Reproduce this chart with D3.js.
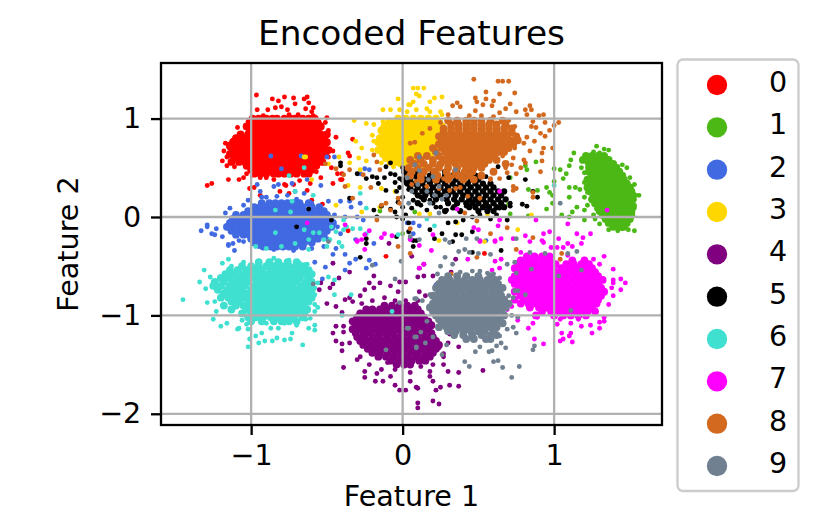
<!DOCTYPE html>
<html><head><meta charset="utf-8"><style>html,body{margin:0;background:#fff}svg{display:block}text{font-family:"DejaVu Sans";fill:#000}</style>
<script src="https://cdn.jsdelivr.net/npm/d3@7"></script></head><body><div id="c"></div><script>
const title="Encoded Features", xLabel="Feature 1", yLabel="Feature 2";
const xTicks=[-1,0,1], yTicks=[-2,-1,0,1];
const xDomain=[-1.595,1.712], yDomain=[-2.114,1.565];
const categories=["0","1","2","3","4","5","6","7","8","9"];
const colors=["#ff0000","#4cb816","#4169e1","#ffd700","#800080","#000000","#40e0d0","#ff00ff","#d2691e","#708090"];
// points in the overplotted core of each class, read row by row: [y, x, x, x, ...]
const core0=[[1.0,-.99,-.95,-.9,-.86,-.83,-.78,-.74,-.71,-.66,-.62,-.58],[.96,-1,-.96,-.92,-.88,-.84,-.8,-.76,-.72,-.68,-.64,-.6,-.56],[.92,-1.03,-.98,-.94,-.9,-.86,-.82,-.78,-.74,-.7,-.66,-.62,-.58,-.54],[.88,-1,-.96,-.92,-.88,-.84,-.8,-.76,-.72,-.68,-.64,-.6,-.56],[.84,-1.07,-1.02,-.98,-.94,-.9,-.86,-.82,-.78,-.74,-.7,-.66,-.62,-.58,-.54,-.5],[.8,-1.1,-1.05,-1,-.96,-.92,-.88,-.84,-.8,-.76,-.72,-.68,-.64,-.6,-.56,-.52],[.76,-1.12,-1.08,-1.03,-.98,-.94,-.9,-.86,-.82,-.78,-.74,-.7,-.66,-.62,-.58,-.54,-.5],[.72,-1.14,-1.1,-1.05,-1,-.96,-.92,-.88,-.84,-.8,-.76,-.72,-.68,-.64,-.6,-.56,-.52],[.68,-1.12,-1.07,-1.03,-.98,-.94,-.9,-.86,-.82,-.78,-.74,-.7,-.66,-.62,-.58,-.54,-.49],[.64,-1.14,-1.09,-1.05,-1,-.96,-.92,-.88,-.84,-.8,-.76,-.72,-.68,-.64,-.6,-.56,-.51],[.6,-1.11,-1.06,-1.02,-.98,-.94,-.9,-.86,-.82,-.78,-.74,-.7,-.66,-.62,-.58,-.54],[.56,-1.13,-1.08,-1.04,-1,-.96,-.92,-.88,-.84,-.8,-.76,-.72,-.68,-.64,-.6,-.56,-.53],[.52,-1.03,-.98,-.94,-.9,-.86,-.82,-.78,-.74,-.7,-.66,-.62,-.57],[.48,-1,-.96,-.92,-.88,-.84,-.8,-.76,-.72,-.68,-.64,-.6],[.44,-.98,-.94,-.9,-.85,-.82,-.78,-.74,-.7,-.65,-.62]];
const core1=[[.62,1.21,1.25,1.29,1.33],[.58,1.19,1.24,1.28,1.32,1.36],[.54,1.23,1.27,1.31,1.35,1.39],[.5,1.25,1.29,1.33,1.37,1.41],[.46,1.23,1.27,1.31,1.35,1.39,1.43],[.42,1.25,1.29,1.33,1.37,1.41,1.45],[.38,1.22,1.26,1.3,1.34,1.38,1.42,1.46],[.34,1.24,1.28,1.32,1.36,1.4,1.44,1.48],[.3,1.22,1.26,1.3,1.34,1.38,1.42,1.46,1.5],[.26,1.24,1.28,1.32,1.36,1.4,1.44,1.48,1.51],[.22,1.26,1.3,1.34,1.38,1.42,1.46,1.5,1.52],[.18,1.25,1.28,1.32,1.36,1.4,1.44,1.48,1.52],[.14,1.27,1.3,1.34,1.38,1.42,1.46,1.5],[.1,1.29,1.32,1.36,1.4,1.44,1.48,1.52],[.06,1.3,1.34,1.38,1.42,1.46,1.5],[.02,1.32,1.36,1.4,1.44,1.48,1.51],[-.02,1.34,1.38,1.42,1.46,1.5],[-.06,1.36,1.4,1.44,1.48],[-.1,1.39,1.43,1.46]];
const core2=[[.14,-.93,-.88,-.84,-.8,-.76,-.72,-.68,-.62],[.1,-.98,-.94,-.9,-.86,-.82,-.78,-.74,-.7,-.66,-.6,-.55],[.06,-1.02,-.97,-.93,-.89,-.85,-.81,-.77,-.73,-.69,-.65,-.61,-.56,-.52],[.02,-1.1,-1.05,-1,-.96,-.92,-.88,-.84,-.8,-.76,-.72,-.68,-.64,-.6,-.55,-.5],[-.02,-1.12,-1.08,-1.03,-.98,-.94,-.9,-.86,-.82,-.78,-.74,-.7,-.66,-.62,-.58,-.53,-.48],[-.06,-1.14,-1.1,-1.05,-1,-.96,-.92,-.88,-.84,-.8,-.76,-.72,-.68,-.64,-.6,-.55,-.5,-.46],[-.1,-1.16,-1.12,-1.07,-1.02,-.98,-.94,-.9,-.86,-.82,-.78,-.74,-.7,-.66,-.62,-.57,-.52,-.47],[-.14,-1.13,-1.08,-1.04,-1,-.96,-.92,-.88,-.84,-.8,-.76,-.72,-.68,-.64,-.6,-.55,-.5],[-.18,-1.1,-1.05,-1.01,-.97,-.93,-.89,-.85,-.81,-.77,-.73,-.69,-.65,-.61,-.56,-.52],[-.22,-1,-.96,-.92,-.88,-.84,-.8,-.76,-.72,-.68,-.64,-.6,-.56],[-.26,-.98,-.93,-.89,-.85,-.81,-.77,-.73,-.69,-.65,-.6],[-.3,-.92,-.87,-.83,-.79,-.75,-.71,-.66]];
const core3=[[1.0,-.03,.02,.07,.12,.17,.22],[.96,-.09,-.05,0,.05,.1,.14,.19,.24],[.92,-.12,-.07,-.03,.02,.07,.12,.16,.21,.26],[.88,-.14,-.1,-.05,0,.04,.09,.14,.18,.23,.27],[.84,-.12,-.07,-.03,.02,.07,.11,.16,.2,.25],[.8,-.15,-.1,-.05,0,.05,.09,.14,.18,.23,.27],[.76,-.16,-.12,-.07,-.02,.03,.07,.12,.16,.21,.25],[.72,-.14,-.1,-.05,0,.05,.09,.14,.18,.23],[.68,-.16,-.11,-.07,-.02,.03,.07,.12,.16,.2],[.64,-.13,-.09,-.04,.01,.05,.09,.14,.18],[.6,-.11,-.06,-.02,.03,.07,.12],[.56,-.08,-.04,.01,.05,.1]];
const core4=[[-.9,-.12,-.07,-.02,.03,.08],[-.94,-.24,-.2,-.15,-.1,-.05,0,.05,.1],[-.98,-.28,-.23,-.18,-.13,-.08,-.03,.02,.07,.12],[-1.02,-.3,-.26,-.21,-.16,-.11,-.06,-.01,.04,.09,.14],[-1.06,-.33,-.28,-.23,-.18,-.13,-.08,-.03,.02,.07,.12,.17],[-1.1,-.31,-.26,-.21,-.16,-.11,-.06,-.01,.04,.09,.14,.19],[-1.14,-.33,-.28,-.23,-.18,-.13,-.08,-.03,.02,.07,.12,.17],[-1.18,-.31,-.26,-.21,-.16,-.11,-.06,-.01,.04,.09,.14,.19],[-1.22,-.3,-.25,-.2,-.15,-.1,-.05,0,.05,.1,.15,.2],[-1.26,-.28,-.23,-.18,-.13,-.08,-.03,.02,.07,.12,.17,.22],[-1.3,-.26,-.21,-.16,-.11,-.06,-.01,.04,.09,.14,.19,.24],[-1.34,-.23,-.18,-.13,-.08,-.03,.02,.07,.12,.17,.22],[-1.38,-.2,-.15,-.1,-.05,0,.05,.1,.15,.2],[-1.42,-.16,-.11,-.06,-.01,.04,.09,.14,.18],[-1.46,-.08,-.03,.02,.06,.11,.15],[-1.5,-.04,.01,.05]];
const core5=[[.46,.01,.05,.1,.2,.28,.36,.44],[.42,.03,.08,.13,.18,.23,.28,.33,.38,.43,.48],[.38,0,.05,.1,.15,.2,.25,.3,.35,.4,.45,.5],[.34,.03,.08,.13,.18,.23,.28,.33,.38,.43,.48,.53,.58],[.3,.05,.1,.15,.2,.25,.3,.35,.4,.45,.5,.55,.6],[.26,.08,.13,.18,.23,.28,.33,.38,.43,.48,.53,.58,.63,.67],[.22,.1,.15,.2,.25,.3,.35,.4,.45,.5,.55,.6,.65],[.18,.14,.22,.29,.34,.39,.44,.48,.53,.58,.63,.68],[.14,.1,.3,.36,.42,.46,.5,.55,.6,.65],[.1,.34,.44,.48,.53,.57,.62,.67],[.06,.28,.38,.5,.56,.6]];
const core6=[[-.46,-.95,-.88,-.82,-.76,-.7],[-.5,-1.06,-1,-.95,-.9,-.85,-.8,-.75,-.7,-.65],[-.54,-1.14,-1.09,-1.03,-.98,-.93,-.87,-.82,-.77,-.72,-.67,-.62],[-.58,-1.17,-1.12,-1.06,-1.01,-.96,-.9,-.85,-.8,-.75,-.7,-.65,-.6],[-.62,-1.2,-1.15,-1.09,-1.04,-.98,-.93,-.88,-.83,-.78,-.73,-.68,-.62],[-.66,-1.24,-1.18,-1.12,-1.07,-1.02,-.96,-.91,-.85,-.8,-.75,-.7,-.64,-.6],[-.7,-1.25,-1.2,-1.14,-1.09,-1.04,-.98,-.93,-.88,-.83,-.78,-.73,-.67,-.62],[-.74,-1.22,-1.16,-1.11,-1.06,-1,-.95,-.9,-.85,-.8,-.75,-.7,-.65,-.6],[-.78,-1.18,-1.13,-1.08,-1.03,-.97,-.92,-.87,-.82,-.77,-.72,-.67,-.62],[-.82,-1.2,-1.15,-1.1,-1.05,-1,-.95,-.9,-.85,-.8,-.75,-.7,-.65,-.6],[-.86,-1.13,-1.08,-1.02,-.97,-.92,-.87,-.82,-.77,-.72,-.67,-.62],[-.9,-1.18,-1.1,-1.05,-1,-.95,-.9,-.85,-.8,-.75,-.7,-.65],[-.94,-1.13,-1.03,-.98,-.93,-.88,-.83,-.78,-.73,-.68,-.63],[-.98,-1.06,-1,-.95,-.9,-.85,-.8,-.75,-.7,-.65],[-1.02,-1.02,-.97,-.92,-.87,-.82,-.77,-.72,-.66],[-1.06,-1,-.93,-.85,-.8,-.75,-.7]];
const core7=[[-.4,.82,.87,.92,.97],[-.44,.78,.83,.88,.93,.98,1.12,1.2],[-.48,.76,.81,.86,.91,.96,1.01,1.08,1.13,1.18,1.23],[-.52,.74,.79,.84,.89,.94,.99,1.05,1.1,1.15,1.2,1.25],[-.56,.77,.82,.87,.92,.97,1.02,1.07,1.12,1.17,1.22,1.27],[-.6,.74,.79,.84,.89,.94,.99,1.04,1.09,1.14,1.19,1.24,1.29],[-.64,.72,.77,.82,.87,.92,.97,1.02,1.07,1.12,1.17,1.22,1.27,1.32],[-.68,.74,.79,.84,.89,.94,.99,1.04,1.09,1.14,1.19,1.24,1.29],[-.72,.77,.82,.87,.92,.97,1.02,1.07,1.12,1.17,1.22,1.27,1.31],[-.76,.74,.79,.84,.89,.94,.99,1.04,1.09,1.14,1.19,1.24,1.29,1.33],[-.8,.78,.82,.87,.92,.97,1.02,1.07,1.12,1.17,1.22,1.27,1.31],[-.84,.74,.8,.85,.9,.95,1,1.05,1.1,1.15,1.2,1.25,1.29],[-.88,.78,.83,.88,.93,.98,1.03,1.08,1.13,1.18,1.23,1.28],[-.92,.84,.9,.95,1,1.05,1.1,1.15,1.2,1.25],[-.96,.92,.98,1.03,1.08,1.13,1.18,1.22,1.27],[-1,.88,1.0,1.06,1.11,1.16,1.21]];
const core8=[[.98,.3,.36,.42,.47,.52,.58,.66],[.94,.32,.37,.42,.47,.52,.57,.62,.68],[.9,.27,.32,.37,.42,.47,.52,.57,.62,.67,.72],[.86,.27,.32,.37,.42,.47,.52,.57,.62,.67,.72],[.82,.24,.29,.34,.39,.44,.49,.54,.59,.64,.69,.75],[.78,.26,.31,.36,.41,.46,.51,.56,.61,.66,.71,.76],[.74,.24,.29,.34,.39,.44,.49,.54,.59,.64,.69,.73],[.7,.2,.26,.31,.36,.41,.46,.51,.56,.61,.66,.7],[.66,.22,.28,.33,.38,.43,.48,.53,.58,.63,.67],[.62,.1,.16,.24,.3,.35,.4,.45,.5,.55,.6],[.58,.05,.12,.2,.27,.32,.37,.42,.47,.52,.57,.62],[.54,.08,.14,.2,.25,.3,.35,.4,.45,.5,.54,.68],[.5,.04,.1,.17,.24,.3,.36,.42,.47,.52],[.46,.06,.14,.21,.29,.35,.41,.46,.6],[.42,.05,.12,.23,.3,.37,.44,.52],[.38,.12,.22,.3,.4,.47]];
const core9=[[-.6,.3,.36,.42,.5,.58],[-.64,.26,.31,.36,.41,.46,.51,.56,.61],[-.68,.24,.29,.34,.39,.44,.49,.54,.59,.63],[-.72,.22,.27,.32,.37,.42,.47,.52,.57,.62,.66],[-.76,.24,.29,.34,.39,.44,.49,.54,.59,.64],[-.8,.2,.25,.3,.35,.4,.45,.5,.55,.6,.65],[-.84,.22,.27,.32,.37,.42,.47,.52,.57,.62,.67],[-.88,.2,.25,.3,.35,.4,.45,.5,.55,.6,.65,.7],[-.92,.18,.23,.28,.33,.38,.43,.48,.53,.58,.63,.68],[-.96,.2,.25,.3,.35,.4,.45,.5,.55,.6,.65],[-1,.22,.27,.32,.37,.42,.47,.52,.57,.62,.67],[-1.04,.24,.29,.34,.39,.44,.49,.54,.59,.64],[-1.08,.26,.31,.36,.41,.46,.51,.56,.61,.66],[-1.12,.24,.29,.34,.39,.44,.49,.53,.58,.62],[-1.16,.3,.35,.4,.45,.5,.54,.6],[-1.2,.34,.4,.46,.52,.58,.62],[-1.24,.42,.47,.55,.58]];
// loose points around each core: [x, y]
const class0=[[-.965,1.24],[-.78,1.22],[-.72,1.21],[-.63,1.22],[-.65,1.2],[-.86,1.2],[-.82,1.18],[-.71,1.15],[-.62,1.16],[-.96,1.09],[-.64,1.1],[-.59,1.11],[-.89,1.09],[-.84,1.11],[-.8,1.12],[-.76,1.09],[-.6,1.07],[-.59,1.03],[-.75,1.04],[-.69,1.04],[-.5,1.01],[-.51,.96],[-1.09,.91],[-1.02,.97],[-.49,.88],[-1.02,.87],[-.44,.81],[-1.17,.75],[-1.15,.74],[-1.12,.78],[-.52,.83],[-.55,.78],[-.51,.75],[-.48,.69],[-.46,.67],[-1.18,.67],[-1.16,.61],[-1.19,.57],[-1.16,.52],[-1.11,.51],[-1.03,.44],[-1.05,.4],[-1.15,.38],[-1.08,.38],[-1.26,.34],[-1.29,.32],[-.49,.61],[-.52,.55],[-.57,.46],[-.54,.4],[-.47,.5],[-.43,.44],[-.4,.38],[-.46,.34],[-.33,.79],[-.36,.65],[-.35,.62],[-1.01,.29],[-.98,.3],[-.78,.33],[-.72,.33],[-.61,.34],[-.63,.27],[-.75,.24],[-.81,.26],[-.94,.22],[-.77,.32],[-.6,.17],[-.53,.13],[-.36,-.14],[.54,-.37],[-.11,-.4],[-.41,.38],[-.4,.44],[-.92,1.03],[-.55,.95],[-.94,.4],[-.9,.4],[-.85,.38],[-.68,.37]];
const class1=[[1.28,.72],[1.33,.69],[1.26,.66],[1.22,.62],[1.3,.65],[1.36,.68],[1.13,.65],[1.11,.58],[1.1,.52],[1.18,.5],[1,.49],[1.04,.48],[1.08,.44],[1.06,.39],[1,.36],[.95,.3],[.97,.25],[.99,.22],[1.1,.3],[1.1,.2],[1.14,.3],[1.17,.28],[1.2,.35],[1.2,.2],[1.15,.1],[1.12,.05],[1.2,.07],[1.05,.02],[1.1,0],[.95,.08],[.99,.14],[.83,.28],[.89,.27],[.82,.48],[.81,.52],[.88,.56],[1.56,.22],[1.54,.22],[1.53,.12],[1.52,.05],[1.5,-.02],[1.53,.33],[1.48,.5],[1.45,.53],[1.42,.51],[1.5,.4],[1.47,-.1],[1.49,-.13],[1.53,-.14],[1.45,-.12],[1.36,-.13],[1.42,-.14],[1.3,-.07],[1.27,-.02],[1.26,.02],[1.2,-.03],[.83,.01],[.71,.03],[1.22,.5],[1.2,.45],[1.24,.3],[1.22,.25],[1.22,.12],[1.28,.08],[-.15,.06],[.08,.05],[0,-.17],[.71,.4],[.7,.13]];
const class2=[[-1.33,-.14],[-1.29,-.08],[-1.29,-.1],[-1.26,-.17],[-1.24,-.18],[-1.23,-.12],[-1.19,-.2],[-1.15,-.29],[-1.12,-.27],[-1.14,.09],[-1.17,.04],[-1.05,.12],[-1.02,.17],[-.96,.33],[-.94,.26],[-.93,.2],[-.85,.31],[-.82,.33],[-.83,.21],[-.76,.22],[-.73,.34],[-.71,.26],[-.65,.24],[-.63,.38],[-.54,.32],[-.5,.61],[-.45,.61],[-.8,.49],[-.87,.62],[-.67,.62],[-.49,.16],[-.41,.16],[-.35,.16],[-.28,.14],[-.3,0],[-.34,.1],[-.41,-.17],[-.26,-.03],[-.38,0],[-.19,-.27],[-.31,-.23],[-.5,-.22],[-.25,.49],[-.22,.48],[-.28,.44],[-1.15,-.28],[-1.11,-.34],[-.67,-.57],[-.73,-.51],[-.58,-.46],[-.51,-.51],[-.46,-.38],[-.38,-.38],[-.35,-.47],[-.38,-.54],[-.53,-.63],[-.44,-.32],[-.31,-.43],[-.22,-.44],[-.18,-.48],[-.24,-.52],[.07,-.17],[.11,-.09],[.07,-.06],[.03,-.06],[.22,-.69],[.55,-.24],[-.9,.2],[-.7,.18],[-.6,.14],[-.45,.02],[-.43,-.1],[-1.08,-.24],[-1.05,-.25],[-.95,-.3],[-.85,-.33],[-.72,-.34],[-.6,-.32],[-.52,-.3]];
const class3=[[.07,1.31],[.14,1.31],[.09,1.25],[.11,1.23],[.26,1.22],[.21,1.21],[.07,1.17],[.18,1.17],[.04,1.14],[.16,1.1],[.25,1.07],[.26,1.04],[.09,1.09],[.18,1.07],[.03,1.07],[-.03,1.2],[.1,1.31],[.05,1.14],[-.08,1.09],[-.13,1.09],[-.02,1.09],[-.13,.97],[-.19,.94],[-.24,.95],[-.32,.98],[-.2,.83],[-.19,.77],[-.27,.7],[-.2,.68],[-.29,.6],[-.24,.57],[-.31,.77],[-.42,.61],[-.49,.54],[-.35,.55],[-.65,.61],[-.64,.61],[-.6,.38],[-.36,.32],[-.28,.3],[-.28,.48],[-.14,.55],[-.06,.51],[-.44,.12],[-.27,.05],[-.15,.1],[-.14,.29],[-.05,.26],[-.02,.53],[.18,.03],[.24,-.24],[.56,.03],[.76,-.13],[.54,-.25],[.85,.02],[.36,-.06],[.11,.03],[.14,.51]];
const class4=[[-.46,-.47],[-.35,-.56],[-.19,-.6],[-.09,-.27],[-.42,-.62],[-.46,-.68],[-.48,-.72],[-.54,-.67],[-.55,-.74],[-.5,-.88],[-.44,-.91],[-.38,-.84],[-.35,-.82],[-.4,-.97],[-.33,-.86],[-.28,-.8],[-.25,-.74],[-.22,-.67],[-.19,-.72],[-.15,-.67],[-.08,-.7],[-.02,-.66],[-.03,-.76],[-.44,-1.11],[-.39,-1.11],[-.46,-1.18],[-.39,-1.17],[-.44,-1.26],[-.4,-1.29],[-.4,-1.36],[-.35,-1.28],[-.28,-1.42],[-.39,-1.53],[-.25,-1.57],[-.25,-1.63],[-.18,-1.67],[-.13,-1.67],[-.17,-1.59],[-.08,-1.62],[-.05,-1.71],[-.02,-1.76],[.05,-1.67],[.09,-1.73],[.1,-1.89],[.1,-1.94],[.2,-1.87],[.24,-1.9],[.1,-1.74],[.02,-1.76],[.2,-1.67],[.22,-1.76],[.25,-1.73],[.31,-1.71],[.37,-1.72],[.3,-1.57],[.37,-1.58],[.53,-1.56],[.18,-1.62],[.18,-1.57],[.27,-1.5],[.27,-1.39],[.37,-1.32],[.3,-1.28],[.24,-1.33],[.31,-1.19],[.02,-.66],[.06,-.4],[.14,-.48],[.11,-.52],[.14,-.6],[.1,-.61],[.2,-.6],[.11,-.76],[.15,-.8],[.32,-.56],[.35,-.43],[-.27,-.88],[-.2,-.85],[-.12,-.82],[-.05,-.85],[.02,-.85],[.1,-.85],[-.3,-1.45],[-.22,-1.5],[-.14,-1.55],[-.05,-1.55],[.05,-1.58],[.12,-1.52],[.2,-1.5],[-.1,-1.48],[.27,-1.42]];
const class5=[[-.35,.19],[-.3,.44],[-.41,.55],[-.41,.52],[-.62,.08],[-.7,-.1],[-.47,-.03],[-.24,.39],[-.2,.41],[-.17,.4],[-.16,.34],[-.11,.51],[-.08,.44],[-.05,.43],[-.02,.39],[-.08,.55],[-.11,.27],[-.04,.26],[-.05,.05],[-.17,0],[-.19,.07],[-.04,0],[-.14,.11],[.04,-.15],[-.24,-.27],[-.24,-.22],[-.28,-.41],[-.04,-.2],[.07,-.24],[.09,-.24],[.81,.38],[.7,.4],[.79,.13],[.82,.11],[.86,.26],[.89,.2],[.71,.14],[.71,.11],[.69,-.03],[.63,.51],[.6,.46],[.55,.41],[.58,-.02],[.46,-.15],[.35,-.18],[.39,-.18],[.26,-.17],[.3,-.06],[.35,-.05],[.4,-.03],[.46,0],[.51,.02],[.62,.02],[.64,.09],[.29,.07],[.22,.1],[.12,.12],[.06,.09],[.16,.07],[.04,-.06],[.18,-.13],[.21,-.22],[.07,-.3],[0,.1],[.07,.17],[.18,.17],[.25,.1],[.33,.09],[.42,.11],[.46,-.36],[.33,-.25],[.65,-.34],[0,.5],[.02,.35],[-.02,.3],[-.05,.35],[-.12,.4],[0,.2],[-.03,.15],[.02,.02],[-.08,.08],[0,-.02],[.04,.28],[.12,.2],[.2,.14]];
const class6=[[-1.45,-.84],[-1.31,-.54],[-1.34,-.66],[-1.3,-.73],[-1.27,-.61],[-1.19,-.47],[-1.15,-.43],[-1.13,-.5],[-1.05,-.46],[-1.29,-.87],[-1.24,-.86],[-1.23,-.96],[-1.25,-1.04],[-1.2,-1.11],[-1.16,-1.08],[-1.08,-1.13],[-1.09,-1.14],[-1.03,-1.09],[-1.02,-1.14],[-1.01,-1.24],[-1.02,-1.32],[-.97,-1.21],[-.95,-1.28],[-.93,-1.18],[-.91,-1.26],[-.86,-1.26],[-.83,-1.23],[-.78,-1.25],[-.74,-1.24],[-.66,-1.3],[-.87,-1.13],[-.9,-1.08],[-.82,-1.13],[-.73,-1.18],[-.64,-1.04],[-.58,-1.1],[-.58,-1.15],[-.62,-1.13],[-.61,-1.03],[-.58,-.96],[-.56,-.92],[-.58,-.89],[-.58,-.72],[-.58,-.79],[-.56,-.67],[-.6,-.57],[-.63,-.48],[-.49,-.61],[-.45,-.64],[-.45,-.79],[-.34,-.79],[-.07,-.96],[-.4,-1],[-1.06,-1.05],[-.78,-1.08],[-.7,-1.1],[-.95,-.45],[-.85,-.42],[-.75,-.44],[-.68,-.47],[-.75,.42],[-.65,.5],[-.71,.26],[-.59,.22],[-.73,.16],[-.84,.07],[-.74,.05],[-.84,-.16],[-.65,-.13],[-.59,-.16],[-.55,-.16],[-.47,-.1],[-.39,-.03],[-.37,-.1],[-.33,-.12],[-.48,-.23],[-.44,-.15],[-.52,-.23],[-.62,-.23],[-.71,-.27],[-.97,-.3],[-.24,.09],[-.28,.24],[-.39,-.13],[-.28,-.12],[-.24,-.17],[-.03,-.18],[1,.32],[.21,-.09],[.16,-.02],[-.9,-.32],[-.8,-.3],[-.62,-.33],[-.5,-.3],[-.42,-.26],[-.4,-.3]];
const class7=[[1.47,-.67],[1.44,-.63],[1.39,-.64],[1.39,-.53],[1.33,-.4],[1.44,-.74],[1.39,-.67],[1.38,-.72],[1.39,-.8],[1.36,-.89],[1.33,-1.02],[1.33,-1.06],[1.3,-1.07],[1.3,-1.13],[1.24,-1.1],[1.25,-1.18],[1.18,-1.11],[1.11,-1.08],[1.16,-1.04],[1.11,-1.18],[1.1,-1.21],[1.12,-1.27],[1.06,-1.24],[1.04,-1.26],[1.05,-1.18],[1.02,-1.09],[1.04,-1.04],[.93,-1.29],[.87,-1.24],[.83,-1.13],[.86,-1.08],[.76,-1.05],[.89,-1.02],[.69,-.94],[.7,-.89],[.72,-.91],[.62,-.66],[.59,-.54],[.64,-.52],[.65,-.43],[.61,-.45],[.51,-.24],[.61,-.24],[.78,-.36],[.98,-.31],[1.09,-.27],[1.18,-.27],[1.26,-.43],[1.3,-.48],[1.09,-.39],[1.06,-.31],[.92,-.24],[1.02,-.31],[.43,-.43],[.58,-.96],[.49,-.94],[.14,-.48],[.19,-.34],[.11,-.52],[1.35,.07],[.64,.26],[.36,.08],[1.09,-.07],[.88,-.03],[1.15,-.17],[1.24,-.17],[1.19,-.21],[1.12,-.3],[1.03,-.22],[.97,-.15],[.93,-.17],[.93,-.26],[.81,-.19],[.84,-.25],[.64,-.03],[.63,-.09],[.47,-.11],[.5,-.13],[.51,-.25],[.61,-.25],[.65,-.22],[.73,-.22],[.2,-.18],[.05,-.23],[.11,-.29],[-.63,-.06],[-.38,-.08],[-.3,-.25],[-.22,-.14],[-.12,-.17],[-.07,-.19],[-.14,-.21],[.05,-.22],[-.27,-.23],[-.25,-.18],[-.25,-.33],[-.3,-.24]];
const class8=[[.47,1.4],[.63,1.38],[.66,1.38],[.7,1.38],[.55,1.27],[.64,1.25],[.74,1.26],[.48,1.21],[.55,1.2],[.6,1.18],[.49,1.17],[.36,1.16],[.33,1.13],[.38,1.12],[.71,1.15],[.53,1.14],[.59,1.13],[.68,1.1],[.84,1.13],[.81,1.09],[.85,1.09],[.75,1.07],[.48,1.08],[.64,1.06],[.3,1.04],[.82,1.04],[.93,1.04],[.9,1.03],[1.03,.96],[.94,.96],[.86,.97],[1,.93],[.85,.92],[.88,.91],[.97,.88],[.91,.85],[.94,.82],[.82,.81],[.87,.77],[.8,.75],[.99,.7],[.93,.7],[.84,.67],[.92,.65],[.74,.7],[.66,.62],[.73,.6],[.8,.58],[.92,.57],[.81,.55],[.72,.53],[.78,.5],[.91,.46],[.68,.5],[.69,.45],[.75,.44],[.64,.39],[.58,.39],[.73,.31],[.75,.29],[.73,.27],[.86,.2],[.86,.25],[.49,-.04],[.58,-.17],[.69,-.11],[.86,-.21],[.31,.27],[.35,.29],[.38,.3],[.43,.21],[.51,.19],[.41,.04],[.24,.29],[.16,.31],[.06,.43],[.03,.41],[.06,.55],[.05,.75],[.08,.76],[.13,.85],[.18,.9],[.58,.38],[.4,.41],[.33,.41],[.27,.39],[.09,.36],[.06,.33],[.05,-.12],[-.51,.54],[-.44,.49],[-.35,.48],[-.39,.43],[-.38,.31],[-.33,.19],[-.19,.63],[-.26,.43],[-.21,.3],[-.17,.56],[-.15,.48],[-.14,.12],[-.08,.07],[-.11,.14],[-.03,.19],[-.02,.14],[-.17,-.03],[-.03,-.3],[.05,-.37],[.49,-.41],[.75,-.33],[1.05,-.37],[1.04,-.43],[.32,-.58],[.7,.98],[.74,.92],[.25,.96],[.6,1.02],[.52,1.03],[.44,1.03]];
const class9=[[.72,-1.63],[.77,-1.52],[.66,-1.53],[.6,-1.47],[.63,-1.46],[.41,-1.47],[.44,-1.52],[.48,-1.37],[.51,-1.32],[.57,-1.37],[.59,-1.36],[.62,-1.31],[.65,-1.28],[.68,-1.33],[.64,-1.21],[.87,-1.31],[.86,-1.35],[.75,-1.18],[.73,-1.12],[.69,-1.14],[.76,-1.02],[.72,-1],[.73,-.82],[.7,-.8],[.76,-.75],[.74,-.75],[.81,-.79],[.75,-.57],[.69,-.48],[.74,-.46],[.64,-.62],[.6,-.58],[.56,-.57],[.51,-.55],[.46,-.55],[.38,-.56],[.33,-.48],[.28,-.41],[.25,-.5],[.23,-.58],[.37,-.35],[.41,-.33],[.44,-.36],[.5,-.37],[.58,-.38],[.18,-.79],[.13,-.85],[.09,-.83],[.16,-1.06],[.04,-1.13],[.12,-1.17],[.09,-1.22],[.2,-1.22],[.09,-1.32],[.15,-1.28],[.26,-1.4],[.29,-1.3],[.85,-.53],[1.03,-.6],[1.18,-.54],[1.11,-.95],[.84,-.36],[.94,-.37],[1.09,-.37],[1.15,-.35],[-.59,-.68],[-.11,-1.35],[-.02,-.87],[.08,-.83],[.03,-1.13],[.08,-1.22],[.09,-1.33],[-.05,-.63],[-.01,-.45],[-.2,-.49],[-.49,-.25],[.22,.65],[.11,.61],[.08,.53],[.11,.47],[.03,.4],[.35,.48],[.2,.41],[.17,.38],[.1,.33],[.06,.26],[.16,.26],[.24,.31],[.29,.22],[.21,.22],[.26,.18],[.18,.14],[.24,.04],[.04,.14],[1.04,.14],[.42,-.22],[.28,-.23],[.31,-.26],[.49,-.22],[.11,-.23],[.05,-.2],[.75,-.22]];
const classes=[class0,class1,class2,class3,class4,class5,class6,class7,class8,class9];
const cores=[core0,core1,core2,core3,core4,core5,core6,core7,core8,core9];

const W=830,H=525,L=161,R=662,T=63,B=425;
const x=d3.scaleLinear().domain(xDomain).range([L,R]);
const y=d3.scaleLinear().domain(yDomain).range([B,T]);
const svg=d3.select("#c").append("svg").attr("width",W).attr("height",H);
svg.append("defs").append("clipPath").attr("id","clip").append("rect").attr("x",L).attr("y",T).attr("width",R-L).attr("height",B-T);
const plot=svg.append("g").attr("clip-path","url(#clip)");
categories.forEach((c,i)=>{
  const g=plot.append("g").attr("fill",colors[i]);
  const corePts=cores[i].flatMap(([yv,...xs])=>xs.map(xv=>[xv,yv]));
  g.selectAll(".core").data(corePts).join("circle").attr("class","core")
    .attr("cx",d=>x(d[0])).attr("cy",d=>y(d[1])).attr("r",i===5?3.1:3.9);
  g.selectAll(".loose").data(classes[i]).join("circle").attr("class","loose")
    .attr("cx",d=>x(d[0])).attr("cy",d=>y(d[1])).attr("r",2.45);
});
const grid=svg.append("g").attr("stroke","#b0b0b0").attr("stroke-width",2.3);
grid.selectAll(".gx").data(xTicks).join("line").attr("x1",d=>x(d)).attr("x2",d=>x(d)).attr("y1",T).attr("y2",B);
grid.selectAll(".gy").data(yTicks).join("line").attr("y1",d=>y(d)).attr("y2",d=>y(d)).attr("x1",L).attr("x2",R);
const ax=svg.append("g").attr("transform",`translate(0,${B})`).call(d3.axisBottom(x).tickValues(xTicks).tickFormat(d3.format("d")).tickSize(10).tickPadding(9.7).tickSizeOuter(0));
const ay=svg.append("g").attr("transform",`translate(${L},0)`).call(d3.axisLeft(y).tickValues(yTicks).tickFormat(d3.format("d")).tickSize(10).tickPadding(9.7).tickSizeOuter(0));
[ax,ay].forEach(a=>{a.select(".domain").remove();a.selectAll("line").attr("stroke","#000").attr("stroke-width",2.3);a.selectAll("text").attr("font-size",28.6).attr("font-family","DejaVu Sans").attr("fill","#000");});
svg.append("rect").attr("x",L).attr("y",T).attr("width",R-L).attr("height",B-T).attr("fill","none").attr("stroke","#000").attr("stroke-width",2.3);
svg.append("text").attr("x",(L+R)/2).attr("y",45).attr("text-anchor","middle").attr("font-size",34.4).text(title);
svg.append("text").attr("x",(L+R)/2).attr("y",506).attr("text-anchor","middle").attr("font-size",28.6).text(xLabel);
svg.append("text").attr("transform",`translate(78,${(T+B)/2}) rotate(-90)`).attr("text-anchor","middle").attr("font-size",28.6).text(yLabel);
const leg=svg.append("g");
leg.append("rect").attr("x",677.5).attr("y",59.5).attr("width",121).attr("height",431.5).attr("rx",5.5).attr("fill","#fff").attr("stroke","#ccc").attr("stroke-width",2.3);
const ly=d3.scalePoint().domain(categories).range([85,466]);
leg.selectAll("circle").data(categories).join("circle").attr("cx",717).attr("cy",d=>ly(d)).attr("r",10.2).attr("fill",(d,i)=>colors[i]);
leg.selectAll("text").data(categories).join("text").attr("x",778).attr("y",d=>ly(d)+7).attr("text-anchor","middle").attr("font-size",28.6).text(d=>d);
</script></body></html>
